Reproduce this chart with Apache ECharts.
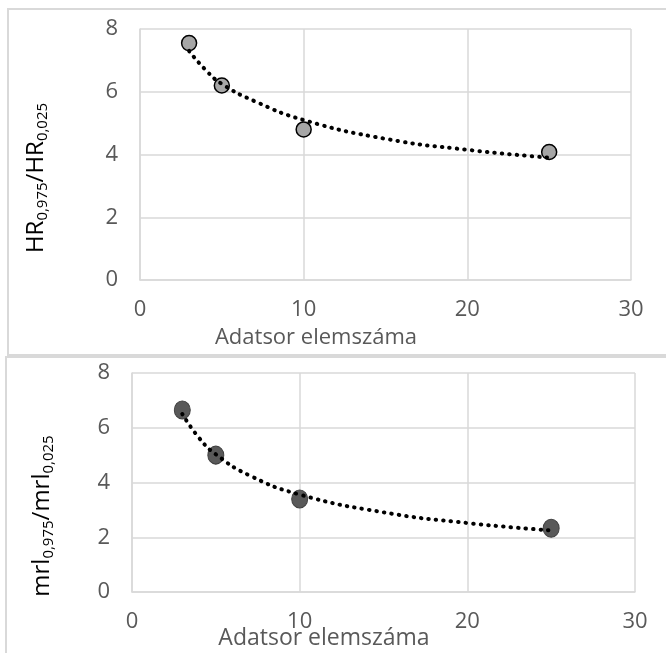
<!DOCTYPE html>
<html>
<head>
<meta charset="utf-8">
<script src="https://cdn.jsdelivr.net/npm/echarts@6/dist/echarts.min.js"></script>
<style>
    html, body { margin: 0; padding: 0; background: #fff; }
    #chart { width: 666px; height: 653px; }
</style>
</head>
<body>
<div id="chart"></div>
<script>
    // adatsor elemszáma
    var n = [3, 5, 10, 25];
    // HR arány (felső ábra)
    var hrRatio = [7.55, 6.2, 4.8, 4.08];
    // mrl arány (alsó ábra)
    var mrlRatio = [6.65, 5.0, 3.4, 2.33];
    // trendvonal pontjai
    var trendX = [3, 4, 5, 7, 10, 15, 20, 25];
    var hrTrend = [7.3, 6.7, 6.25, 5.7, 5.1, 4.5, 4.15, 3.9];
    var mrlTrend = [6.5, 5.63, 5.03, 4.26, 3.56, 2.91, 2.52, 2.25];
    var xTicks = [0, 10, 20, 30];
    var yTicks = [0, 2, 4, 6, 8];

    var font = '"Open Sans", sans-serif';
    var grey = '#595959';
    var gridColor = '#d9d9d9';

    function pairs(xs, ys) {
        return xs.map(function (x, i) { return [x, ys[i]]; });
    }

    function xAxis(idx) {
        return {
            type: 'value', gridIndex: idx,
            min: xTicks[0], max: xTicks[xTicks.length - 1], interval: xTicks[1] - xTicks[0],
            axisLine: { show: true, lineStyle: { color: gridColor, width: 1.5 } },
            axisTick: { show: false },
            splitLine: { show: true, lineStyle: { color: gridColor, width: 1.5 } },
            axisLabel: { color: grey, fontSize: 22, fontFamily: font, margin: 19 }
        };
    }
    function yAxis(idx) {
        return {
            type: 'value', gridIndex: idx,
            min: yTicks[0], max: yTicks[yTicks.length - 1], interval: yTicks[1] - yTicks[0],
            axisLine: { show: true, lineStyle: { color: gridColor, width: 1.5 } },
            axisTick: { show: false },
            splitLine: { show: true, lineStyle: { color: gridColor, width: 1.5 } },
            axisLabel: { color: grey, fontSize: 22, fontFamily: font, margin: 22 }
        };
    }

    var rich = {
        m: { fontSize: 24, fontFamily: font, color: grey, lineHeight: 28, verticalAlign: 'middle' },
        s: { fontSize: 15, fontFamily: font, color: grey, lineHeight: 15, padding: [14, 0, 0, 0], verticalAlign: 'middle' }
    };

    var myChart = echarts.init(document.getElementById('chart'));
    var option = {
        animation: false,
        backgroundColor: '#fff',
        grid: [
            { left: 140, top: 29, width: 491, height: 251 },
            { left: 132, top: 373, width: 503, height: 219 }
        ],
        xAxis: [xAxis(0), xAxis(1)],
        yAxis: [yAxis(0), yAxis(1)],
        graphic: [
            { type: 'rect', shape: { x: 8, y: 9, width: 670, height: 346 }, style: { fill: 'none', stroke: gridColor, lineWidth: 2 } },
            { type: 'rect', shape: { x: 6, y: 357, width: 670, height: 310 }, style: { fill: 'none', stroke: gridColor, lineWidth: 2 } },
            { type: 'text', x: 316, y: 338, style: { text: 'Adatsor elemszáma', fill: grey, font: '22px ' + font, align: 'center', verticalAlign: 'middle' } },
            { type: 'text', x: 324, y: 638, style: { text: 'Adatsor elemszáma', fill: grey, font: '23px ' + font, align: 'center', verticalAlign: 'middle' } },
            { type: 'text', x: 36, y: 178, rotation: Math.PI / 2,
              style: { text: '{m|HR}{s|0,975}{m|/HR}{s|0,025}', rich: rich, align: 'center', verticalAlign: 'middle' } },
            { type: 'text', x: 42, y: 516, rotation: Math.PI / 2,
              style: { text: '{m|mrl}{s|0,975}{m|/mrl}{s|0,025}', rich: rich, align: 'center', verticalAlign: 'middle' } }
        ],
        series: [
            {
                type: 'scatter', xAxisIndex: 0, yAxisIndex: 0,
                data: pairs(n, hrRatio), symbolSize: 15,
                itemStyle: { color: '#a6a6a6', borderColor: '#000', borderWidth: 1.5, opacity: 1 }
            },
            {
                type: 'line', xAxisIndex: 0, yAxisIndex: 0, smooth: true, showSymbol: false,
                data: pairs(trendX, hrTrend), z: 5,
                lineStyle: { color: '#000', width: 4, type: [0.5, 7], cap: 'round' }
            },
            {
                type: 'scatter', xAxisIndex: 1, yAxisIndex: 1,
                data: pairs(n, mrlRatio), symbolSize: [16, 18],
                itemStyle: { color: '#595959', borderColor: '#404040', borderWidth: 1, opacity: 1 }
            },
            {
                type: 'line', xAxisIndex: 1, yAxisIndex: 1, smooth: true, showSymbol: false,
                data: pairs(trendX, mrlTrend), z: 5,
                lineStyle: { color: '#000', width: 4, type: [0.5, 7], cap: 'round' }
            }
        ]
    };
    myChart.setOption(option);
</script>
</body>
</html>
